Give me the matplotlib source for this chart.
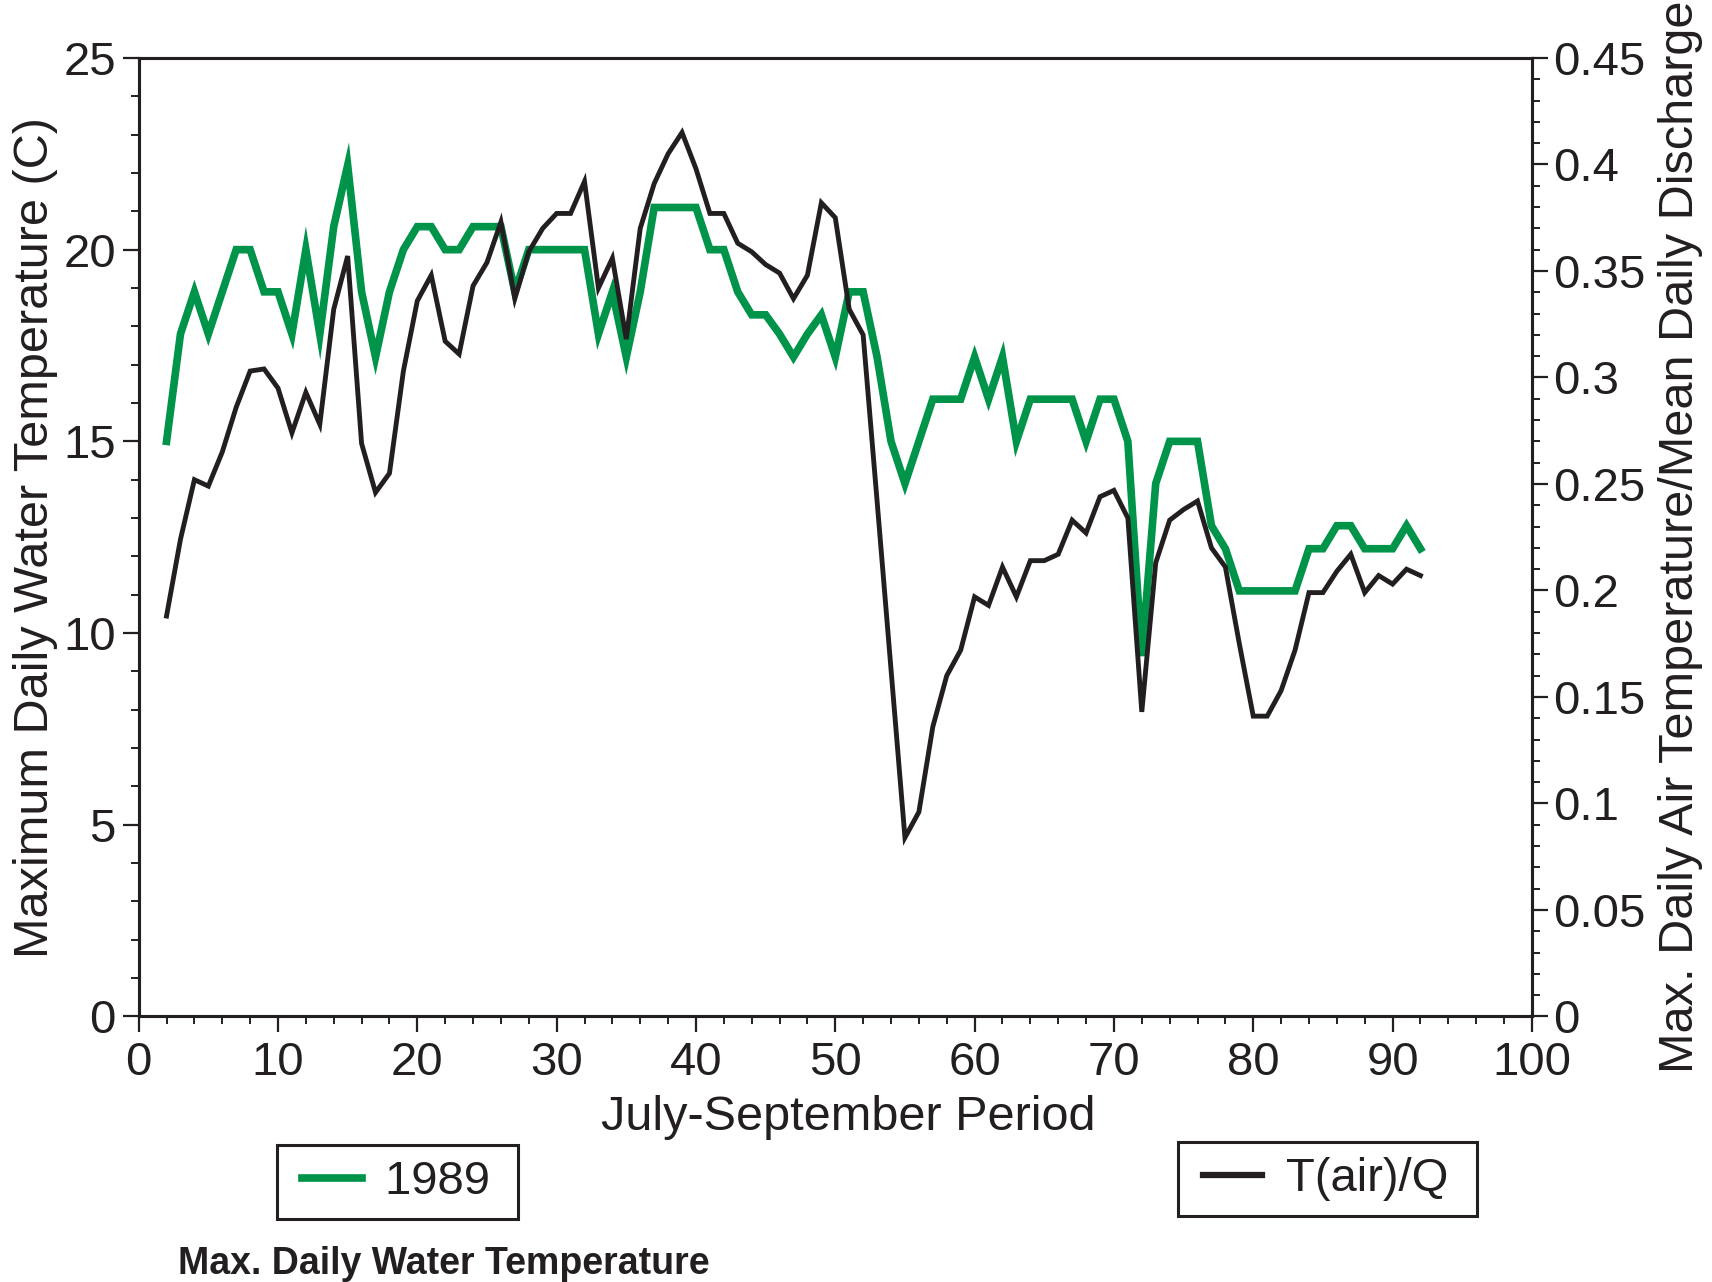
import numpy as np
import matplotlib
matplotlib.use("Agg")
import matplotlib.pyplot as plt
from matplotlib.lines import Line2D
from matplotlib.legend_handler import HandlerLine2D
from matplotlib.ticker import MultipleLocator, FuncFormatter

plt.rcParams['font.family'] = ['Liberation Sans', 'DejaVu Sans']

# day of the July-September period
days = list(range(2, 93))

# max daily water temperature, 1989 (C)
water_temp = [15.0, 17.8, 18.9, 17.8, 18.9, 20.0, 20.0, 18.9, 18.9, 17.8,
              20.0, 17.8, 20.6, 22.2, 18.9, 17.2, 18.9, 20.0, 20.6, 20.6,
              20.0, 20.0, 20.6, 20.6, 20.6, 18.9, 20.0, 20.0, 20.0, 20.0,
              20.0, 17.8, 18.9, 17.2, 18.9, 21.1, 21.1, 21.1, 21.1, 20.0,
              20.0, 18.9, 18.3, 18.3, 17.8, 17.2, 17.8, 18.3, 17.2, 18.9,
              18.9, 17.2, 15.0, 13.9, 15.0, 16.1, 16.1, 16.1, 17.2, 16.1,
              17.2, 15.0, 16.1, 16.1, 16.1, 16.1, 15.0, 16.1, 16.1, 15.0,
              9.4, 13.9, 15.0, 15.0, 15.0, 12.8, 12.2, 11.1, 11.1, 11.1,
              11.1, 11.1, 12.2, 12.2, 12.8, 12.8, 12.2, 12.2, 12.2, 12.8, 12.2]

# max daily air temperature / mean daily discharge
tair_q = [0.188, 0.224, 0.252, 0.249, 0.265, 0.286, 0.303, 0.304, 0.295, 0.274,
          0.293, 0.278, 0.332, 0.357, 0.269, 0.246, 0.255, 0.303, 0.336, 0.348,
          0.317, 0.311, 0.343, 0.354, 0.373, 0.337, 0.359, 0.370, 0.377, 0.377,
          0.392, 0.342, 0.356, 0.318, 0.370, 0.391, 0.405, 0.415, 0.398, 0.377,
          0.377, 0.363, 0.359, 0.353, 0.349, 0.337, 0.348, 0.382, 0.375, 0.332,
          0.320, 0.242, 0.163, 0.084, 0.096, 0.136, 0.160, 0.172, 0.197, 0.193,
          0.211, 0.197, 0.214, 0.214, 0.217, 0.233, 0.227, 0.244, 0.247, 0.234,
          0.143, 0.213, 0.233, 0.238, 0.242, 0.220, 0.211, 0.175, 0.141, 0.141,
          0.153, 0.172, 0.199, 0.199, 0.209, 0.217, 0.199, 0.207, 0.203, 0.210, 0.207]

green = '#00934a'
dark = '#231f20'
fs = 34
lfs = 35

fig = plt.figure(figsize=(17.12, 12.82), dpi=100)
ax = fig.add_axes([0.081, 0.2071, 0.8138, 0.7477])
ax2 = ax.twinx()

ax.plot(days, water_temp, color=green, lw=5.5, solid_joinstyle='miter')
ax2.plot(days, tair_q, color=dark, lw=3.5, solid_joinstyle='miter')

ax.set_xlim(0, 100)
ax.set_ylim(0, 25)
ax2.set_ylim(0, 0.45)

ax.xaxis.set_major_locator(MultipleLocator(10))
ax.xaxis.set_minor_locator(MultipleLocator(2))
ax.yaxis.set_major_locator(MultipleLocator(5))
ax.yaxis.set_minor_locator(MultipleLocator(1))
ax2.yaxis.set_major_locator(MultipleLocator(0.05))
ax2.yaxis.set_minor_locator(MultipleLocator(0.01))
ax2.yaxis.set_major_formatter(FuncFormatter(lambda v, p: '%g' % round(v, 2)))

for a in (ax, ax2):
    for s in a.spines.values():
        s.set_linewidth(2.2)
        s.set_color(dark)
    a.tick_params(which='major', length=11.5, width=1.6, color=dark, labelsize=fs, labelcolor=dark)
    a.tick_params(which='minor', length=5.5, width=1.4, color=dark)
ax.tick_params(axis='x', which='both', top=False, pad=6)
ax.tick_params(axis='y', which='both', right=False, pad=5)
ax2.tick_params(axis='y', pad=4)

ax.set_xlabel('July-September Period', fontsize=lfs, color=dark, labelpad=10)
ax.xaxis.set_label_coords(0.509, -0.082)
ax.set_ylabel('Maximum Daily Water Temperature (C)', fontsize=lfs, color=dark, labelpad=4)
ax2.set_ylabel('Max. Daily Air Temperature/Mean Daily Discharge', fontsize=lfs, color=dark, labelpad=9)

h1 = Line2D([], [], color=green, lw=5.5)
h2 = Line2D([], [], color=dark, lw=4.5)
hmap = {Line2D: HandlerLine2D(xpad=0.21)}
leg_kw = dict(fontsize=fs, fancybox=False, framealpha=1, edgecolor=dark, handler_map=hmap,
              handlelength=1.47, handletextpad=0.5, borderpad=0.32, borderaxespad=0,
              loc='upper left')
leg1 = fig.legend([h1], ['1989 '], bbox_to_anchor=(0.1618, 0.1069), **leg_kw)
leg2 = fig.legend([h2], ['T(air)/Q '], bbox_to_anchor=(0.688, 0.1092), **leg_kw)
for lg in (leg1, leg2):
    lg.get_frame().set_linewidth(2.2)
    for t in lg.get_texts():
        t.set_color(dark)

fig.text(0.104, 0.0138, 'Max. Daily Water Temperature', fontsize=27, fontweight='bold',
         color=dark, va='center', ha='left')

fig.savefig('out.png', dpi=100)
